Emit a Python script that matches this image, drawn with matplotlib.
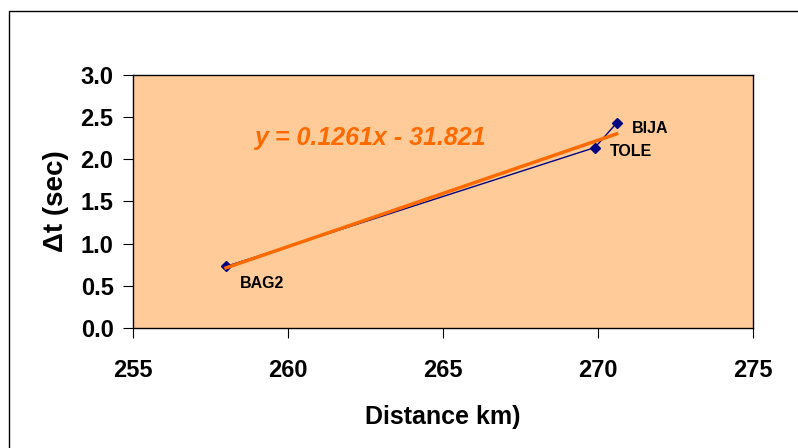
import matplotlib.pyplot as plt
from matplotlib.patches import Rectangle

plt.rcParams['font.family'] = ['Liberation Sans', 'DejaVu Sans']
plt.rcParams['font.weight'] = 'bold'

# 数据
stations = ['BAG2', 'TOLE', 'BIJA']
distance = [258.0, 269.9, 270.6]
delta_t = [0.73, 2.14, 2.43]
slope = 0.1261
intercept = -31.821
label_offsets = [(10, -12), (11, -3), (11, -4)]

fig = plt.figure(figsize=(7.98, 4.48), dpi=100)
fig.patches.append(Rectangle((9 / 798, -0.1), 1.2, 1 - 11 / 448 + 0.1,
                             transform=fig.transFigure, fill=False,
                             edgecolor='black', linewidth=1))
ax = fig.add_axes([133 / 798, 1 - 328 / 448, 620 / 798, 253 / 448])
ax.set_facecolor('#FFCC99')

ax.plot(distance, delta_t, color='#000080', linewidth=1, marker='D',
        markersize=5, markerfacecolor='#000080', zorder=3)

x_fit = [min(distance), max(distance)]
y_fit = [slope * x + intercept for x in x_fit]
ax.plot(x_fit, y_fit, color='#FF6A00', linewidth=2.5, zorder=4)

for name, x, y, off in zip(stations, distance, delta_t, label_offsets):
    ax.annotate(name, (x, y), xytext=off, textcoords='offset points',
                fontsize=11.5, fontweight='bold', va='center', ha='left')

ax.text(258.9, 2.25, 'y = 0.1261x - 31.821', color='#FF6A00', fontsize=18,
        fontweight='bold', style='italic', va='center', ha='left')

ax.set_xlim(255, 275)
ax.set_ylim(0, 3)
ax.set_xticks([255, 260, 265, 270, 275])
ax.set_yticks([0, 0.5, 1.0, 1.5, 2.0, 2.5, 3.0])
ax.set_yticklabels(['%.1f' % v for v in ax.get_yticks()])
ax.tick_params(axis='both', labelsize=17, length=7, direction='out')
ax.tick_params(axis='x', pad=15)
ax.tick_params(axis='y', pad=7)
for lbl in ax.get_xticklabels() + ax.get_yticklabels():
    lbl.set_fontweight('bold')
for sp in ax.spines.values():
    sp.set_linewidth(1)

ax.set_xlabel('Distance km)', fontsize=18, fontweight='bold', labelpad=17)
ax.set_ylabel('\u0394t (sec)', fontsize=20, fontweight='bold', labelpad=8)

fig.savefig('out.png', dpi=100)
